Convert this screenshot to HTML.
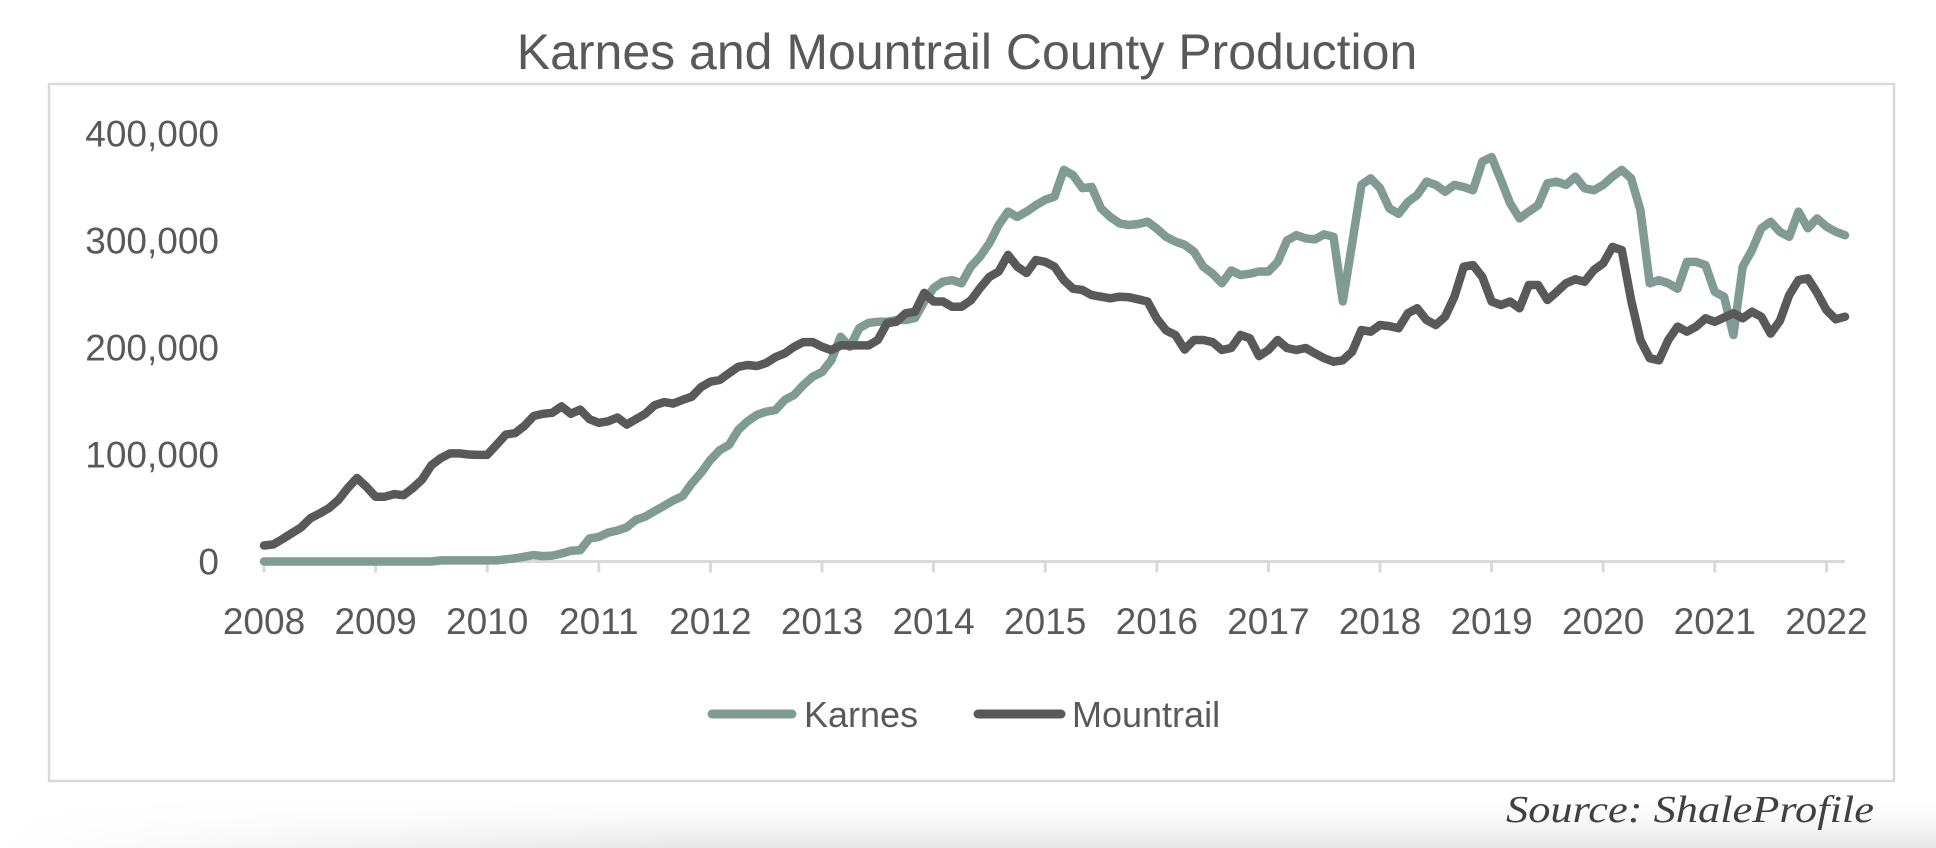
<!DOCTYPE html>
<html><head><meta charset="utf-8"><title>Karnes and Mountrail County Production</title>
<style>html,body{margin:0;padding:0;background:#fff;}svg{display:block;}</style></head>
<body>
<svg id="chart" width="1936" height="848" viewBox="0 0 1936 848" xmlns="http://www.w3.org/2000/svg" font-family="'Liberation Sans', sans-serif">
<defs>
<linearGradient id="shade" x1="0" y1="0" x2="0" y2="1">
<stop offset="0" stop-color="#ffffff" stop-opacity="0"/>
<stop offset="1" stop-color="#e6e6e6" stop-opacity="1"/>
</linearGradient>
<linearGradient id="shadeH" x1="0" y1="0" x2="1" y2="0">
<stop offset="0" stop-color="#ffffff" stop-opacity="1"/>
<stop offset="0.35" stop-color="#ffffff" stop-opacity="0"/>
</linearGradient>
</defs>
<rect x="0" y="0" width="1936" height="848" fill="#fff"/>
<rect x="0" y="790" width="1936" height="58" fill="url(#shade)"/>
<rect x="0" y="790" width="1936" height="58" fill="url(#shadeH)"/>
<text x="967" y="69" text-anchor="middle" font-size="50" fill="#595959">Karnes and Mountrail County Production</text>
<rect x="49" y="84" width="1845" height="697" fill="#fff" stroke="#d9d9d9" stroke-width="2.5"/>
<g id="axes"></g>
<g id="series"></g>
<g>
<line x1="712" y1="714" x2="792" y2="714" stroke="#7f9b94" stroke-width="9" stroke-linecap="round"/>
<text x="804" y="727" font-size="36" fill="#595959">Karnes</text>
<line x1="978" y1="714" x2="1061" y2="714" stroke="#595959" stroke-width="9" stroke-linecap="round"/>
<text x="1072" y="727" font-size="36" fill="#595959">Mountrail</text>
</g>
<text x="1874" y="822" text-anchor="end" font-family="'Liberation Serif', serif" font-style="italic" font-size="38" fill="#404040" textLength="368" lengthAdjust="spacingAndGlyphs">Source: ShaleProfile</text>
</svg>
<script>
const yearLabels = ["2008","2009","2010","2011","2012","2013","2014","2015","2016","2017","2018","2019","2020","2021","2022"];
const yTicks = [0,100000,200000,300000,400000];
const yTickLabels = ["0","100,000","200,000","300,000","400,000"];
// monthly production (thousands), Jan 2008 .. Mar 2022
const karnes = [0,0,0,0,0,0,0,0,0,0,0,0,0,0,0,0,0,0,0,1,1,1,1,1,1,1,2,3,4.5,6,5,5.5,7.5,10,10.6,21.5,23,27,29,32,39,42,47,52,57,
61,73,83,95,104,109,123,131,137,140,141.6,151,155.6,165,172.7,177,188,210,200.7,218,223,224,224,225.7,225.7,227.5,243,255.6,261.5,263,260,275.5,285,297.6,314.5,327,322,327,333,338,341,
366,361,349,350,330,322,316,314.5,315.4,317.6,311,303.5,299,296,289.5,275.5,269,260,272,267.8,269,271,271,280,300,305,302,301,305.8,303.5,243,297,352,358,349,330,325,336,342.5,355,352,345.6,352,350,347,
373.6,378,356.5,334.7,320.7,327,333,353.5,355,352,359.6,348.8,347,352,359.6,366,358,328.5,260,263,260,255,280,280,277,252,247.5,211.7,275.5,291,311.4,317.6,308,303.5,327,311.4,320.7,313,308.2,305];
const mountrail = [15,16,21,26.5,32,40.5,45,50,57.5,68.6,78,70,60.6,60.6,63,62,68.6,76.6,90,96.5,101,101,100,99.6,99.6,109,118.6,120,126.7,136,138,139,145,138,142,133,129.6,131,134.6,128,133,138,146,149,147.6,
151,154,163,168,169.6,176,182,183.6,182.7,185.5,191,194.6,200.7,205,205,200.7,197.6,202,202,202,202,207,222.8,224,232,233.5,251,243,243,238,238,244,255.6,266,271,286.5,275.5,269.6,281.8,280,275.5,
263,255,253.7,249,247.5,246,247.5,247,245,243,227,216,211.7,198,207,207,205,197.7,199.5,211.7,208.6,192,197.7,207,199.5,197.7,199.5,194.6,190,186.7,188,196,216.4,214.8,221,220,218,232,236.6,225.7,221,228.8,247.5,275.5,277,266,
243,239.7,243,236.6,258.4,258.4,244.4,252,260,263.7,261.5,272.4,278.7,294,291,244.4,207,190,188,207,219.5,214.8,219.5,227.3,224,228,232,227.3,233.5,228.8,213,225,249,263,264.7,251,235,226.4,228.8];

const NS = "http://www.w3.org/2000/svg";
const X0 = 264, YEAR_W = 111.6, Y0 = 561.5, PER100K = 107;
function xMonth(i){ return X0 + i * YEAR_W / 12; }
function xYear(i){ return X0 + i * YEAR_W; }
function yVal(v){ return Y0 - v / 100000 * PER100K; }

const axes = document.getElementById('axes');
yTicks.forEach((t, i) => {
  const tx = document.createElementNS(NS, 'text');
  
  
  tx.setAttribute('x', 219); tx.setAttribute('y', yVal(t) + 13);
  tx.setAttribute('text-anchor', 'end'); tx.setAttribute('font-size', '37'); tx.setAttribute('fill', '#595959');
  tx.textContent = yTickLabels[i];
  axes.appendChild(tx);
});
const axisLine = document.createElementNS(NS, 'line');


axisLine.setAttribute('x1', X0); axisLine.setAttribute('x2', 1845);
axisLine.setAttribute('y1', Y0); axisLine.setAttribute('y2', Y0);
axisLine.setAttribute('stroke', '#d9d9d9'); axisLine.setAttribute('stroke-width', '3');
axes.appendChild(axisLine);
yearLabels.forEach((lab, i) => {
  const x = xYear(i);
  const tk = document.createElementNS(NS, 'line');
  
  
  tk.setAttribute('x1', x); tk.setAttribute('x2', x);
  tk.setAttribute('y1', Y0); tk.setAttribute('y2', Y0 + 11);
  tk.setAttribute('stroke', '#d9d9d9'); tk.setAttribute('stroke-width', '3');
  axes.appendChild(tk);
  const tx = document.createElementNS(NS, 'text');
  
  
  tx.setAttribute('x', x); tx.setAttribute('y', 634);
  tx.setAttribute('text-anchor', 'middle'); tx.setAttribute('font-size', '37'); tx.setAttribute('fill', '#595959');
  tx.textContent = lab;
  axes.appendChild(tx);
});

const series = document.getElementById('series');
function drawLine(vals, color, name){
  const pts = vals.map((v, i) => xMonth(i).toFixed(1) + ',' + yVal(v * 1000).toFixed(1)).join(' ');
  const pl = document.createElementNS(NS, 'polyline');
  
  
  pl.setAttribute('points', pts);
  pl.setAttribute('fill', 'none'); pl.setAttribute('stroke', color);
  pl.setAttribute('stroke-width', '8.5'); pl.setAttribute('stroke-linejoin', 'round'); pl.setAttribute('stroke-linecap', 'round');
  series.appendChild(pl);
}
drawLine(karnes, '#7f9b94', 'karnes-line');
drawLine(mountrail, '#595959', 'mountrail-line');
</script>
</body></html>
